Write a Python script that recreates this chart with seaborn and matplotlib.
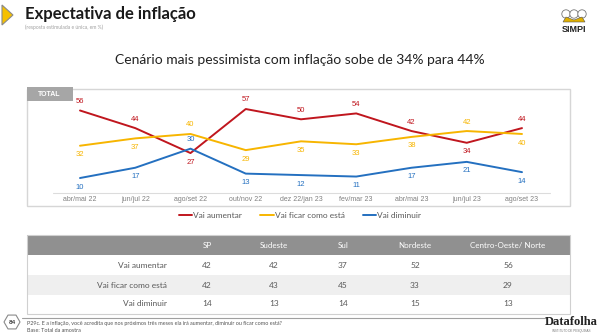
import numpy as np
import pandas as pd
import matplotlib
matplotlib.use("Agg")
import matplotlib.pyplot as plt
from matplotlib.patches import Rectangle, Polygon, RegularPolygon, Circle
import seaborn as sns

# ---------------- data ----------------
periods = ["abr/mai 22", "jun/jul 22", "ago/set 22", "out/nov 22", "dez 22/jan 23",
           "fev/mar 23", "abr/mai 23", "jun/jul 23", "ago/set 23"]
vai_aumentar = [56, 44, 27, 57, 50, 54, 42, 34, 44]
vai_ficar = [32, 37, 40, 29, 35, 33, 38, 42, 40]
vai_diminuir = [10, 17, 30, 13, 12, 11, 17, 21, 14]
series_names = ["Vai aumentar", "Vai ficar como está", "Vai diminuir"]
series_colors = ["#C0161E", "#F7B500", "#2470C0"]
label_above = {
    "Vai aumentar": [1, 1, 0, 1, 1, 1, 1, 0, 1],
    "Vai ficar como está": [0, 0, 1, 0, 0, 0, 0, 1, 0],
    "Vai diminuir": [0, 0, 1, 0, 0, 0, 0, 0, 0],
}

table_cols = ["SP", "Sudeste", "Sul", "Nordeste", "Centro-Oeste/ Norte"]
table_rows = ["Vai aumentar", "Vai ficar como está", "Vai diminuir"]
tab_aumentar = [42, 42, 37, 52, 56]
tab_ficar = [42, 43, 45, 33, 29]
tab_diminuir = [14, 13, 14, 15, 13]

title = "Expectativa de inflação"
subtitle = "(resposta estimulada e única, em %)"
headline = "Cenário mais pessimista com inflação sobe de 34% para 44%"
footnote1 = "P29c. E a inflação, você acredita que nos próximos três meses ela irá aumentar, diminuir ou ficar como está?"
footnote2 = "Base: Total da amostra"

# ---------------- figure ----------------
sns.set_theme(style="white")
plt.rcParams["font.family"] = ["Lato", "DejaVu Sans"]

W, H = 600, 336
fig = plt.figure(figsize=(6, 3.36), dpi=100)
fig.patch.set_facecolor("white")
bg = fig.add_axes([0, 0, 1, 1])
bg.set_xlim(0, W)
bg.set_ylim(H, 0)
bg.axis("off")

# title block
bg.add_patch(Polygon([[2, 5], [2, 25], [13, 15]], closed=True, facecolor="#F5C000",
                     edgecolor="#8a8a8a", lw=0.8))
bg.text(25, 14, title, fontsize=12, fontweight="bold", color="#1a1a1a", va="center", ha="left")
bg.text(25, 27, subtitle, fontsize=3.6, color="#a0a0a0", va="center", ha="left")

# SIMPI logo (approximate)
for cx in [566, 574, 582]:
    bg.add_patch(Circle((cx, 14), 4.2, facecolor="white", edgecolor="#777777", lw=0.6))
bg.add_patch(Polygon([[563, 22], [585, 22], [582, 17], [574, 20], [566, 17]], closed=True,
                     facecolor="#E0B000", edgecolor="#555555", lw=0.4))
bg.text(574, 29, "SIMPI", fontsize=6.5, fontweight="bold", color="#222222",
        ha="center", va="center", family=["Liberation Sans"])

# headline
bg.text(300, 60, headline, fontsize=10, color="#222222", ha="center", va="center")

# chart frame
bg.add_patch(Rectangle((27, 89), 543, 117, facecolor="none", edgecolor="#d6d6d6", lw=1))
bg.add_patch(Rectangle((27, 87), 46, 14, facecolor="#a6a6a6", edgecolor="none"))
bg.text(38, 94, "TOTAL", fontsize=5, fontweight="bold", color="white", ha="left", va="center",
        family=["Liberation Sans"])
bg.plot([53, 550], [193, 193], color="#dcdcdc", lw=0.8)

# line chart axes (bottom edge = baseline at y=193 px)
x0_px, dx_px = 80, 55.25
y0_px, dy_px = 192.7, 1.468
ax_bot, ax_top = 193, 89
ax = fig.add_axes([27 / W, (H - ax_bot) / H, 543 / W, (ax_bot - ax_top) / H])
ax.patch.set_alpha(0)
ax.set_xlim((27 - x0_px) / dx_px, (570 - x0_px) / dx_px)
ax.set_ylim((y0_px - ax_bot) / dy_px, (y0_px - ax_top) / dy_px)

df = pd.DataFrame({
    "idx": list(range(len(periods))) * 3,
    "valor": vai_aumentar + vai_ficar + vai_diminuir,
    "serie": [series_names[0]] * len(periods) + [series_names[1]] * len(periods)
             + [series_names[2]] * len(periods),
})
sns.lineplot(data=df, x="idx", y="valor", hue="serie", palette=series_colors,
             hue_order=series_names, sort=False, linewidth=1.4, ax=ax, legend=True)

for name, color, vals in zip(series_names, series_colors, [vai_aumentar, vai_ficar, vai_diminuir]):
    for i, v in enumerate(vals):
        up = label_above[name][i]
        ax.annotate(str(v), (i, v), xytext=(0, 6.5 if up else -6.5), textcoords="offset points",
                    ha="center", va="center", fontsize=5.5, color=color,
                    family=["Liberation Sans"], annotation_clip=False)

ax.set_xticks(range(len(periods)))
ax.set_xticklabels(periods, fontsize=5, color="#808080", family=["Liberation Sans"])
ax.tick_params(axis="x", length=0, pad=2.5)
ax.set_yticks([])
ax.set_xlabel("")
ax.set_ylabel("")
for s in ax.spines.values():
    s.set_visible(False)

leg = ax.legend(loc="center", bbox_to_anchor=(300 / W, 1 - 215 / H),
                bbox_transform=fig.transFigure, ncol=3, frameon=False, fontsize=6,
                handlelength=1.6, handletextpad=0.1, columnspacing=2.2)
for t in leg.get_texts():
    t.set_color("#595959")
for lh in leg.get_lines():
    lh.set_linewidth(1.4)

# ---------------- table ----------------
tx0, tx1 = 27, 570
bg.add_patch(Rectangle((tx0, 235), tx1 - tx0, 20, facecolor="#909090", edgecolor="none"))
bg.add_patch(Rectangle((tx0, 275), tx1 - tx0, 20, facecolor="#efefef", edgecolor="none"))
bg.add_patch(Rectangle((tx0, 235), tx1 - tx0, 79, facecolor="none", edgecolor="#d0d0d0", lw=0.8))
col_x = [207, 274, 343, 415, 508]
row_y = [266, 285, 304]
for cx, name in zip(col_x, table_cols):
    bg.text(cx, 245, name, fontsize=5.8, color="white", ha="center", va="center")
for ry, rname, vals in zip(row_y, table_rows, [tab_aumentar, tab_ficar, tab_diminuir]):
    bg.text(167, ry, rname, fontsize=6, color="#595959", ha="right", va="center")
    for cx, v in zip(col_x, vals):
        bg.text(cx, ry, str(v), fontsize=6, color="#595959", ha="center", va="center")

# ---------------- footer ----------------
bg.plot([22, 547], [318, 318], color="#a0a0a0", lw=0.8)
bg.add_patch(RegularPolygon((12, 322), numVertices=6, radius=8, orientation=np.pi / 6,
                            facecolor="white", edgecolor="#8a8a8a", lw=0.8))
bg.text(12, 322, "84", fontsize=4.5, fontweight="bold", color="#333333", ha="center", va="center")
bg.text(27, 323.5, footnote1, fontsize=3.9, color="#555555", ha="left", va="center")
bg.text(27, 331, footnote2, fontsize=3.9, color="#555555", ha="left", va="center")
bg.text(571, 322, "Datafolha", fontsize=9, fontweight="bold", color="#222222",
        ha="center", va="center", family=["Liberation Serif"])
bg.text(571, 331, "INSTITUTO DE PESQUISAS", fontsize=2.2, color="#777777",
        ha="center", va="center", family=["Liberation Sans"])

fig.savefig("out.png", dpi=100, facecolor="white")
